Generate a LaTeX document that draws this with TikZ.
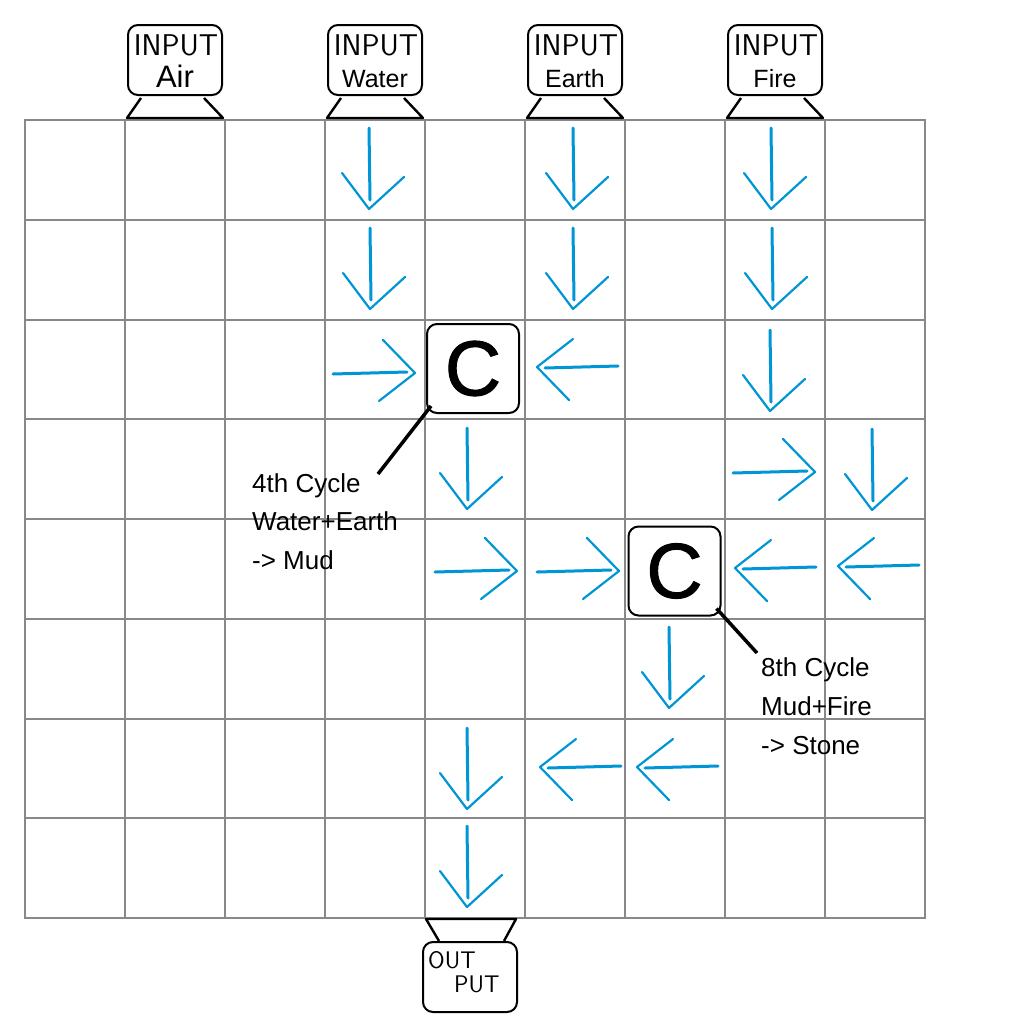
\documentclass[tikz,border=0pt]{standalone}
\usepackage{fontspec}
\newfontfamily\arialfont{Liberation Sans}
\newfontfamily\cfont[FakeBold=1.2]{Liberation Sans}
\usetikzlibrary{calc}
\definecolor{arrowblue}{RGB}{0,150,214}
\definecolor{gridgray}{RGB}{136,136,136}
\tikzset{
  arrline/.style={arrowblue, line width=3pt, line cap=round},
  headline/.style={arrowblue, line width=2.2pt, line cap=round, line join=round},
  arrD/.pic={\draw[arrline] (0,0) -- (1,72);
             \draw[headline] (-27,45) -- (0,81) -- (35,49);},
  arrR/.pic={\draw[arrline] (0,0) -- (74,-2);
             \draw[headline] (50,-34) -- (82,-1) -- (46,27);},
  arrL/.pic={\draw[arrline] (8,1) -- (81,-1);
             \draw[headline] (36,-28) -- (0,0) -- (32,33);},
  gridline/.style={gridgray, line width=2pt, line cap=rect},
  sketch/.style={draw=black, line width=2pt, rounded corners=10pt, fill=white},
  stand/.style={draw=black, line width=2.4pt, line join=round},
  handtxt/.style={font=\sffamily\fontsize{30}{36}\selectfont, inner sep=0pt},
  handsmall/.style={font=\sffamily\fontsize{24}{28}\selectfont, inner sep=0pt},
  lbl/.style={font=\arialfont\fontsize{26}{31}\selectfont, inner sep=0pt},
  cbox/.style={sketch, minimum width=92pt, minimum height=89pt, inner sep=0pt,
               font=\cfont\fontsize{78}{78}\selectfont},
  leader/.style={draw=black, line width=3.5pt},
}
\begin{document}
\begin{tikzpicture}[x=1pt,y=-1pt]
\useasboundingbox (0,0) rectangle (1016,1028);
\fill[white] (0,0) rectangle (1016,1028);

% grid
\foreach \i in {0,...,9} \draw[gridline] (25+100*\i,120) -- (25+100*\i,918);
\foreach \j in {0,...,8} \draw[gridline] (25,120+99.75*\j) -- (925,120+99.75*\j);

% inputs
\foreach \cx/\nm/\txt/\sz in {175/inAir/Air/31, 375/inWater/Water/25, 575/inEarth/Earth/25, 775/inFire/Fire/25}{
  \node[sketch, minimum width=94pt, minimum height=70pt] (\nm) at (\cx,60) {};
  \node[handtxt, anchor=base] (\nm-a) at (\cx+1,55) {INPUT};
  \node[anchor=base, inner sep=0pt, font=\arialfont\fontsize{\sz}{\sz}\selectfont] (\nm-b) at (\cx,87) {\txt};
  \draw[stand] ($(\nm.south west)+(14,2)$) -- ($(\nm.south west)+(0,22)$)
     -- ($(\nm.south east)+(0,22)$) -- ($(\nm.south east)+(-19,2)$);
}

% output
\node[sketch, minimum width=94pt, minimum height=70pt] (out) at (470,977) {};
\draw[stand] ($(out.north west)+(17,0)$) -- ($(out.north west)+(4,-22)$)
   -- ($(out.north west)+(94,-22)$) -- ($(out.north west)+(82,0)$);
\node[handsmall, anchor=base west] (out-a) at (428,968) {OUT};
\node[handsmall, anchor=base west] (out-b) at (454,992) {PUT};

% arrows
\foreach \p in {(369,128),(573,128),(771,128),(370,228),(573,228),(772,228),
                (770,330),(467,428),(872,429),(669,627),(467,728),(467,826)}
  \pic at \p {arrD};
\foreach \p in {(333,374),(733,473),(435,572),(537,572)}
  \pic at \p {arrR};
\foreach \p in {(537,367),(735,568),(838,566),(540,767),(637,767)}
  \pic at \p {arrL};

% combiners
\node[cbox] (c1) at (473,368.5) {C};
\node[cbox] (c2) at (674.5,571) {C};

% labels
\node[lbl, anchor=base west] (l1a) at (252,492) {4th Cycle};
\node[lbl, anchor=base west] (l1b) at (252,530.5) {Water+Earth};
\node[lbl, anchor=base west] (l1c) at (252,569) {-> Mud};
\node[lbl, anchor=base west] (l2a) at (761,676) {8th Cycle};
\node[lbl, anchor=base west] (l2b) at (761,715) {Mud+Fire};
\node[lbl, anchor=base west] (l2c) at (761,754) {-> Stone};

\coordinate (l1end) at (378,474);
\coordinate (l2end) at (757,653);
\draw[leader] ([shift={(5,-8)}]c1.south west) -- (l1end);
\draw[leader] ([shift={(-5,-8)}]c2.south east) -- (l2end);
\end{tikzpicture}
\end{document}
